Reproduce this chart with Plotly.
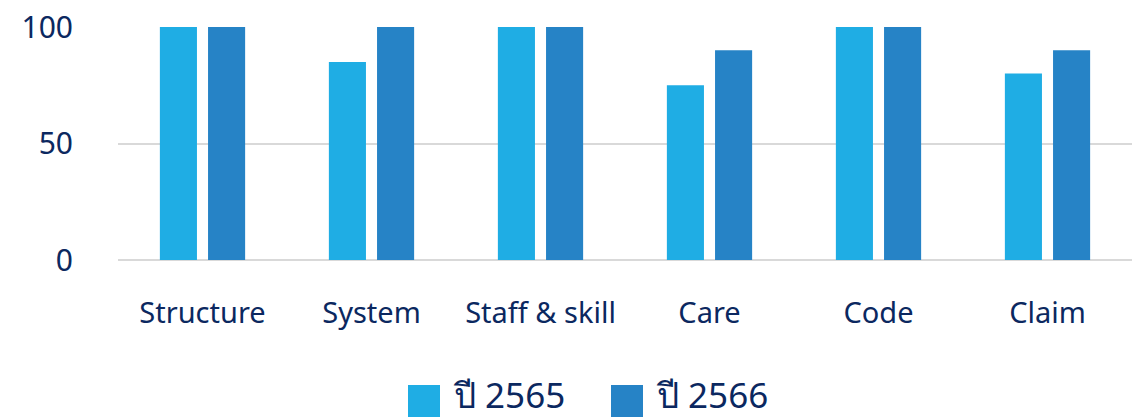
import plotly.graph_objects as go

# data
categories = ["Structure", "System", "Staff & skill", "Care", "Code", "Claim"]
y2565 = [100, 85, 100, 75, 100, 80]
y2566 = [100, 100, 100, 90, 100, 90]
series_names = ["ปี 2565", "ปี 2566"]
colors = ["#1FADE4", "#2683C6"]

navy = "#0B2860"
font_family = "Noto Sans, DejaVu Sans, sans-serif"

W, H = 1135, 417
L, R, T, B = 118, 3, 27, 157
plot_w = W - L - R
plot_h = H - T - B

fig = go.Figure()
for name, vals, col in zip(series_names, [y2565, y2566], colors):
    fig.add_trace(go.Bar(x=categories, y=vals, name=name,
                         marker=dict(color=col, line=dict(width=0)),
                         showlegend=False))

# manual legend with big square swatches
def px_x(p):
    return (p - L) / plot_w

def px_y(p):
    return (H - B - p) / plot_h

legend_items = [(408, 451), (611, 654)]
for (sq_x, txt_x), name, col in zip(legend_items, series_names, colors):
    fig.add_shape(type="rect", xref="paper", yref="paper",
                  x0=px_x(sq_x), x1=px_x(sq_x + 32),
                  y0=px_y(417), y1=px_y(385),
                  fillcolor=col, line=dict(width=0))
    fig.add_annotation(x=px_x(txt_x), y=px_y(394), xref="paper", yref="paper",
                       text=name, showarrow=False, xanchor="left", yanchor="middle",
                       font=dict(size=35, color=navy, family=font_family))

fig.update_layout(
    width=W, height=H,
    margin=dict(l=L, r=R, t=T, b=B),
    plot_bgcolor="white", paper_bgcolor="white",
    barmode="group", bargap=0.43, bargroupgap=0.23,
    font=dict(family=font_family, color=navy),
)
fig.update_xaxes(showline=False, showgrid=False, ticks="", automargin=False,
                 tickfont=dict(size=29, color=navy), ticklabelstandoff=33)
fig.update_yaxes(range=[0, 100], tickvals=[0, 50, 100], automargin=False,
                 showgrid=True, gridcolor="#D9D9D9", gridwidth=2,
                 zeroline=True, zerolinecolor="#D9D9D9", zerolinewidth=2,
                 showline=False, ticks="",
                 tickfont=dict(size=30, color=navy), ticklabelstandoff=44)

# drop the default page margin so the figure sits at the window's corner
fig.write_html("out.html", config={"displayModeBar": False},
               post_script="document.body.style.margin='0px';")
